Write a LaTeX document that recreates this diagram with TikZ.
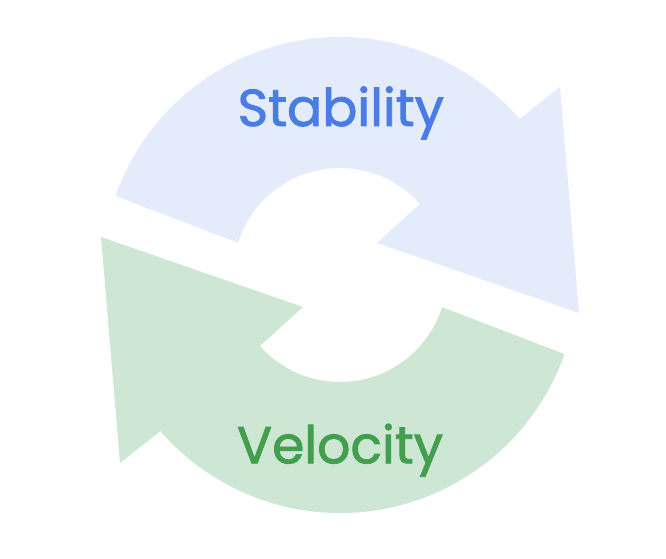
\documentclass[tikz,border=0pt]{standalone}
\usepackage{fontspec}
\newfontfamily\loopfont{Poppins}[FakeBold=1.6]
\definecolor{stab-fill}{HTML}{E4ECFC}
\definecolor{stab-text}{HTML}{4A7CE6}
\definecolor{velo-fill}{HTML}{CDE7D4}
\definecolor{velo-text}{HTML}{439E4D}

\begin{document}
\begin{tikzpicture}[x=1pt, y=1pt,
    every node/.style={font=\loopfont\fontsize{52}{58}\selectfont, inner sep=0pt},
    band/.style={draw=none}]
    \useasboundingbox (-340,-284) rectangle (326,275);
    % upper arrow
    \fill[band, color=stab-fill] (160.6:238) arc[start angle=160.6, end angle=41, radius=238]
      -- (220,188) -- (239,-38) -- (37,32) -- (41.6:107)
      arc[start angle=41.6, end angle=162.5, radius=107] -- cycle;
    % lower arrow
    \fill[band, color=velo-fill] (340.6:238) arc[start angle=340.6, end angle=221, radius=238]
      -- (-220,-188) -- (-239,38) -- (-37,-32) -- (221.6:107)
      arc[start angle=221.6, end angle=342.5, radius=107] -- cycle;
    \node[color=stab-text, anchor=base] (stab) at (0.8,149) {Stability};
    \node[color=velo-text, anchor=base] (velo) at (0,-188.3) {Velocity};
  \end{tikzpicture}
\end{document}
